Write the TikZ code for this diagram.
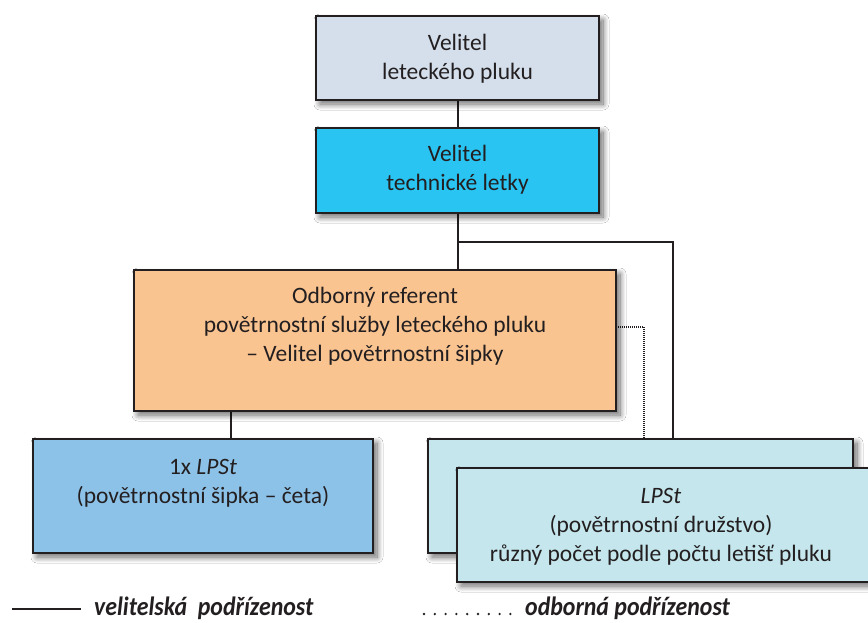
\documentclass[tikz,border=0pt]{standalone}
\usepackage{fontspec}
\setmainfont{Carlito}
\newfontfamily\legendfont[FakeStretch=0.9]{Carlito}
\usetikzlibrary{shadows.blur,calc}
\definecolor{ink}{HTML}{231F20}
\definecolor{cmdgray}{HTML}{D4DFEB}
\definecolor{techcyan}{HTML}{29C4F2}
\definecolor{refpeach}{HTML}{FAC491}
\definecolor{cetablue}{HTML}{8DC2E8}
\definecolor{teamblue}{HTML}{C4E6EC}
\begin{document}
\begin{tikzpicture}[x=1pt,y=-1pt,
  unitbox/.style={draw=ink,line width=2.4pt,rectangle,inner sep=0pt,
    blur shadow={shadow xshift=4pt,shadow yshift=-4pt,shadow blur radius=6pt,
      shadow blur steps=12,shadow opacity=60}},
  boxtext/.style={align=center,text=ink,font=\fontsize{23.5}{29}\selectfont},
  link/.style={draw=ink,line width=2pt},
  advisory/.style={draw=ink,line width=2pt,dash pattern=on 1pt off 1pt},
  legendtext/.style={anchor=base west,inner sep=0pt,text=ink,
    font=\legendfont\bfseries\itshape\fontsize{26.5}{30}\selectfont}]
\useasboundingbox[fill=white] (0,0) rectangle (868,622);

% junction points of the connectors
\coordinate (split) at (457.5,242);
\coordinate (splitR) at (673,242);
\coordinate (dotA) at (644,327);

% connectors (drawn first so the boxes sit on top)
\draw[link] (457.5,100) -- (457.5,270);
\draw[link] (split) -- (splitR) -- (673,440);
\draw[advisory] (616,327) -- (dotA) -- (644,440);
\draw[link] (231,411) -- (231,440);

% boxes
\node[unitbox,fill=cmdgray,minimum width=283pt,minimum height=84pt] (top) at (457.5,58) {};
\node[unitbox,fill=techcyan,minimum width=283pt,minimum height=85pt] (tech) at (457.5,170.5) {};
\node[unitbox,fill=refpeach,minimum width=482pt,minimum height=141pt] (ref) at (375,340.5) {};
\node[unitbox,fill=cetablue,minimum width=340pt,minimum height=114pt] (ceta) at (203,496) {};
\node[unitbox,fill=teamblue,minimum width=425pt,minimum height=114pt] (teamback) at (640.5,496) {};
\node[unitbox,fill=teamblue,minimum width=425pt,minimum height=114pt] (teamfront) at (669.5,525) {};

% box labels
\node[boxtext] (topt) at (457.5,58.5) {Velitel\\leteckého pluku};
\node[boxtext] (techt) at (457.5,170) {Velitel\\technické letky};
\node[boxtext] (reft) at (375,326) {Odborný referent\\povětrnostní služby leteckého pluku\\– Velitel povětrnostní šipky};
\node[boxtext] (cetat) at (203,483) {1x \textit{LPSt}\\(povětrnostní šipka – četa)};
\node[boxtext] (teamt) at (661,527) {\textit{LPSt}\\(povětrnostní družstvo)\\různý počet podle počtu letišť pluku};

% legend
\coordinate (lgA) at (12,609);
\coordinate (lgB) at (81,609);
\draw[draw=ink,line width=2pt] (lgA) -- (lgB);
\node[legendtext] (lgsolid) at (94,615.5) {velitelská\hspace{0.4em}podřízenost};
\coordinate (lgC) at (424,614);
\coordinate (lgD) at (521,614);
\draw[draw=ink,line width=2.6pt,line cap=round,dash pattern=on 0pt off 10.8pt] (lgC) -- (lgD);
\node[legendtext] (lgdot) at (525,615.5) {odborná podřízenost};
\end{tikzpicture}
\end{document}
